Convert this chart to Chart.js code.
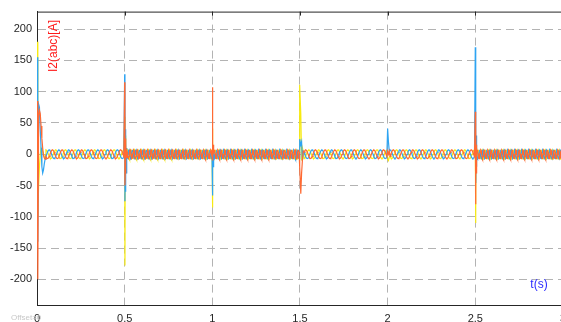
<!DOCTYPE html>
<html>
<head>
<meta charset="utf-8">
<script src="https://cdn.jsdelivr.net/npm/chart.js@4.4.1/dist/chart.umd.min.js"></script>
<style>
  html, body { margin: 0; padding: 0; background: #fff; overflow: hidden; }
</style>
</head>
<body>
<canvas id="scope" width="573" height="322"></canvas>
<script>
// axis ticks
const xTicks = [0, 0.5, 1, 1.5, 2, 2.5, 3];
const yTicks = [-200, -150, -100, -50, 0, 50, 100, 150, 200];

// one steady-state cycle of each phase (A), 12 samples
const cycleA = [0, 3.5, 6, 7, 6, 3.5, 0, -3.5, -6, -7, -6, -3.5];
const cycleB = [-6, -7, -6, -3.5, 0, 3.5, 6, 7, 6, 3.5, 0, -3.5];
const cycleC = [6, 3.5, 0, -3.5, -6, -7, -6, -3.5, 0, 3.5, 6, 7];

// time segments with their steady-state period (s)
const segStart = [0, 0.5, 1.5, 2.5];
const segEnd = [0.5, 1.5, 2.5, 3];
const segPeriod = [0.5 / 9, 0.02, 0.5 / 9, 0.02];

// switching events and transient samples
const eventTimes = [0, 0.5, 1, 1.5, 2, 2.5];
const spikeA = [
  [155, -140, 80, 75, 40, 10, -20, -30, -25, -15, -8],
  [128, -75, 40, -60, 20, -30, 10, -10, 8, -5],
  [15, -66, 10, -20, -5, 3],
  [24, 15, 20, -10, 5],
  [41, 20, 5],
  [171, 145, -46, 30, -20, 10, -5]
];
const spikeB = [
  [85, -200, 60, 70, 65, 45, 25, 10, -2, -6, -8],
  [115, -50, -30, 25, 15, -5, 5, -3],
  [107, 60, -10, 15, 5],
  [-20, -63, -30, -10, 5],
  [5, 0, 5],
  [68, -80, 40, -30, 15, 5]
];
const spikeC = [
  [180, -100, -50, -20, 0, 10, 8, 5, 0, -4, -7],
  [60, -178, 30, 20, -10, 8, 0],
  [41, -85, 20, -10, 5],
  [111, 65, -10, 10, 5],
  [-8, -10, -5],
  [20, -110, -60, 10, 5]
];

function buildPhase(cycle, spikes) {
  const pts = [];
  for (let s = 0; s < segStart.length; s++) {
    const dt = segPeriod[s] / cycle.length;
    const n = Math.round((segEnd[s] - segStart[s]) / dt);
    for (let i = 0; i < n; i++) {
      const t = segStart[s] + i * dt;
      let y = cycle[i % cycle.length];
      for (let e = 0; e < eventTimes.length; e++) {
        const ev = eventTimes[e];
        if (ev < segStart[s] || ev >= segEnd[s]) continue;
        const k = i - Math.round((ev - segStart[s]) / dt);
        if (k >= 0 && k < spikes[e].length) y = spikes[e][k];
      }
      pts.push({ x: t, y: y });
    }
  }
  return pts;
}

const labelPlugin = {
  id: 'scopeText',
  afterDraw(chart) {
    const ctx = chart.ctx;
    const a = chart.chartArea;
    ctx.save();
    ctx.strokeStyle = '#262626';
    ctx.lineWidth = 1;
    ctx.beginPath();
    ctx.moveTo(a.left, a.top + 0.5);
    ctx.lineTo(a.right, a.top + 0.5);
    ctx.stroke();
    // small tick marks along the top
    const xs = chart.scales.x;
    xTicks.forEach(v => {
      const px = Math.round(xs.getPixelForValue(v)) + 0.5;
      ctx.beginPath();
      ctx.moveTo(px, a.top);
      ctx.lineTo(px, a.top + 4);
      ctx.stroke();
    });
    ctx.fillStyle = '#ff1a1a';
    ctx.font = '12px "Liberation Sans", Arial, sans-serif';
    ctx.translate(54, 46);
    ctx.rotate(-Math.PI / 2);
    ctx.textAlign = 'center';
    ctx.textBaseline = 'middle';
    ctx.fillText('I2(abc)[A]', 0, 0);
    ctx.restore();
    ctx.save();
    ctx.fillStyle = '#2b2bff';
    ctx.font = '12px "Liberation Sans", Arial, sans-serif';
    ctx.textAlign = 'center';
    ctx.textBaseline = 'middle';
    ctx.fillText('t(s)', 539, 285);
    ctx.fillStyle = '#c8c8c8';
    ctx.font = '8px "Liberation Sans", Arial, sans-serif';
    ctx.textAlign = 'left';
    ctx.fillText('Offset=0', 11, 318);
    ctx.restore();
  }
};

const ctx = document.getElementById('scope').getContext('2d');
const scopeChart = new Chart(ctx, {
  type: 'line',
  data: {
    // first dataset is drawn on top
    datasets: [
      { label: 'Ib', data: buildPhase(cycleB, spikeB), borderColor: '#ff6a33', borderWidth: 1.2, pointRadius: 0, tension: 0 },
      { label: 'Ia', data: buildPhase(cycleA, spikeA), borderColor: '#2ea4f2', borderWidth: 1.2, pointRadius: 0, tension: 0 },
      { label: 'Ic', data: buildPhase(cycleC, spikeC), borderColor: '#f7ea10', borderWidth: 1.2, pointRadius: 0, tension: 0 }
    ]
  },
  options: {
    responsive: false,
    animation: false,
    parsing: false,
    normalized: true,
    layout: { padding: { top: 9, right: 0, left: 0, bottom: 0 } },
    plugins: { legend: { display: false }, tooltip: { enabled: false } },
    scales: {
      x: {
        type: 'linear',
        min: 0,
        max: 3,
        afterFit(scale) { scale.height = 17; },
        afterBuildTicks(scale) { scale.ticks = xTicks.map(v => ({ value: v })); },
        ticks: {
          padding: 7,
          maxRotation: 0,
          color: '#262626',
          font: { family: '"Liberation Sans", Arial, sans-serif', size: 11 },
          callback: v => String(v)
        },
        grid: { color: '#b3b3b3', lineWidth: 1, drawTicks: false },
        border: { color: '#262626', width: 1, dash: [8, 5] }
      },
      y: {
        min: -241,
        max: 228,
        afterFit(scale) { scale.width = 37; },
        afterBuildTicks(scale) { scale.ticks = yTicks.map(v => ({ value: v })); },
        ticks: {
          padding: 5,
          color: '#262626',
          font: { family: '"Liberation Sans", Arial, sans-serif', size: 11 }
        },
        grid: { color: '#b3b3b3', lineWidth: 1, drawTicks: false },
        border: { color: '#262626', width: 1, dash: [8, 5] }
      }
    }
  },
  plugins: [labelPlugin]
});
</script>
</body>
</html>
